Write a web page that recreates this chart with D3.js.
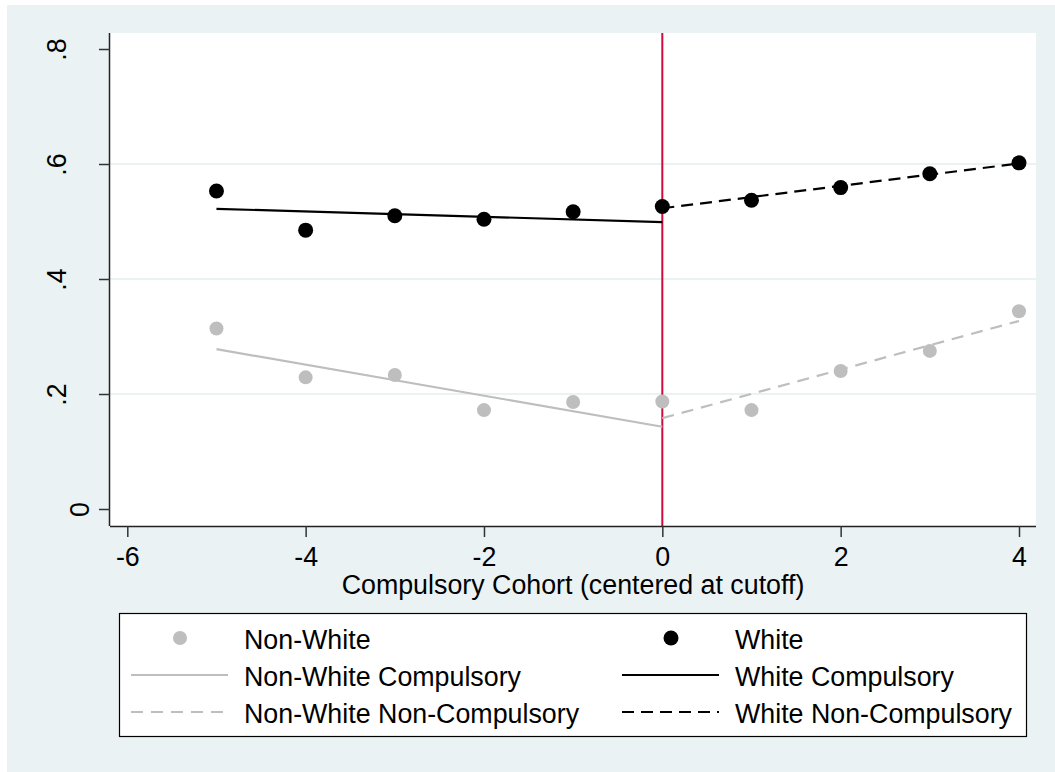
<!DOCTYPE html>
<html>
<head>
<meta charset="utf-8">
<script src="https://cdn.jsdelivr.net/npm/d3@7"></script>
<style>
  body { margin: 0; background: #fff; }
  svg text { font-family: "Liberation Sans", Arial, sans-serif; fill: #000; }
</style>
</head>
<body>
<svg id="chart" width="1055" height="772"></svg>
<script>
// Binned means by cohort
var cohorts = [-5, -4, -3, -2, -1, 0, 1, 2, 3, 4];
var nonWhite = [0.314, 0.229, 0.233, 0.172, 0.186, 0.187, 0.172, 0.240, 0.275, 0.344];
var white = [0.553, 0.485, 0.510, 0.504, 0.517, 0.526, 0.537, 0.559, 0.583, 0.602];

// Fitted lines (endpoints), left and right of the cutoff
var nwCompulsory = [[-5, 0.278], [0, 0.143]];
var nwNonCompulsory = [[0, 0.158], [4, 0.327]];
var wCompulsory = [[-5, 0.522], [0, 0.499]];
var wNonCompulsory = [[0, 0.523], [4, 0.601]];

var xTicks = [-6, -4, -2, 0, 2, 4];
var yTicks = [0, 0.2, 0.4, 0.6, 0.8];
var yGrid = [0.2, 0.4, 0.6];
var cutoff = 0;

var legendItems = [
    { label: "Non-White", type: "point", color: "#bebebe" },
    { label: "White", type: "point", color: "#000" },
    { label: "Non-White Compulsory", type: "line", color: "#bebebe", dash: null },
    { label: "White Compulsory", type: "line", color: "#000", dash: null },
    { label: "Non-White Non-Compulsory", type: "line", color: "#bebebe", dash: "12,8" },
    { label: "White Non-Compulsory", type: "line", color: "#000", dash: "12,7" }
];

var bg = "#eaf2f3";
var fontSize = "26.8px";
var plot = { left: 110, right: 1036, top: 33, bottom: 526 };

var svg = d3.select("#chart");

// Outer graph region
svg.append("rect")
    .attr("x", 7).attr("y", 5)
    .attr("width", 1055 - 7).attr("height", 772 - 5)
    .attr("fill", bg);

// Plot region
svg.append("rect")
    .attr("x", plot.left).attr("y", plot.top)
    .attr("width", plot.right - plot.left).attr("height", plot.bottom - plot.top)
    .attr("fill", "#fff");

var x = d3.scaleLinear().domain([-6, 4]).range([127.3, 1019]);
var y = d3.scaleLinear().domain([0, 0.8]).range([509, 49]);

// Gridlines
svg.selectAll(".grid")
    .data(yGrid)
    .enter().append("line")
    .attr("class", "grid")
    .attr("x1", plot.left).attr("x2", plot.right)
    .attr("y1", d => y(d)).attr("y2", d => y(d))
    .attr("stroke", bg)
    .attr("stroke-width", 2);

// Cutoff line
svg.append("line")
    .attr("x1", x(cutoff)).attr("x2", x(cutoff))
    .attr("y1", plot.top).attr("y2", plot.bottom)
    .attr("stroke", "#cf0a3c")
    .attr("stroke-width", 2);

// Fitted lines
var line = d3.line().x(d => x(d[0])).y(d => y(d[1]));

function drawFit(data, color, dash) {
    svg.append("path")
        .datum(data)
        .attr("d", line)
        .attr("fill", "none")
        .attr("stroke", color)
        .attr("stroke-width", 2.2)
        .attr("stroke-dasharray", dash);
}
drawFit(nwCompulsory, "#bebebe", null);
drawFit(nwNonCompulsory, "#bebebe", "12,8");
drawFit(wCompulsory, "#000", null);
drawFit(wNonCompulsory, "#000", "12,7");

// Points
svg.selectAll(".nw")
    .data(cohorts)
    .enter().append("circle")
    .attr("class", "nw")
    .attr("cx", d => x(d))
    .attr("cy", (d, i) => y(nonWhite[i]))
    .attr("r", 7)
    .attr("fill", "#bebebe");

svg.selectAll(".w")
    .data(cohorts)
    .enter().append("circle")
    .attr("class", "w")
    .attr("cx", d => x(d))
    .attr("cy", (d, i) => y(white[i]))
    .attr("r", 7.5)
    .attr("fill", "#000");

// X axis
var xAxis = svg.append("g")
    .attr("transform", "translate(0," + plot.bottom + ")")
    .call(d3.axisBottom(x).tickValues(xTicks).tickSize(11).tickSizeOuter(0).tickFormat(d3.format("d")));
xAxis.select(".domain").attr("d", "M" + plot.left + ",0.5H" + plot.right).attr("stroke", "#222").attr("stroke-width", 1.5);
xAxis.selectAll(".tick line").attr("stroke", "#333").attr("stroke-width", 1.5);
xAxis.selectAll(".tick text")
    .attr("y", 40).attr("dy", 0)
    .style("font-size", fontSize)
    .text(d => d3.format("d")(d).replace("−", "-"));

// Y axis, labels rotated
var yAxis = svg.append("g")
    .attr("transform", "translate(" + plot.left + ",0)")
    .call(d3.axisLeft(y).tickValues(yTicks).tickSize(11).tickSizeOuter(0));
yAxis.select(".domain").attr("d", "M-0.5," + plot.top + "V" + plot.bottom).attr("stroke", "#222").attr("stroke-width", 1.5);
yAxis.selectAll(".tick line").attr("stroke", "#333").attr("stroke-width", 1.5);
yAxis.selectAll(".tick text")
    .attr("x", null).attr("dy", 0)
    .attr("text-anchor", "middle")
    .attr("transform", d => "translate(" + (d === 0 ? -21 : -44) + ",0) rotate(-90)")
    .style("font-size", fontSize)
    .text(d => d === 0 ? "0" : d3.format(".1f")(d).replace(/^0/, ""));

// X axis title
svg.append("text")
    .attr("x", (plot.left + plot.right) / 2)
    .attr("y", 594)
    .attr("text-anchor", "middle")
    .style("font-size", fontSize)
    .text("Compulsory Cohort (centered at cutoff)");

// Legend
var legend = svg.append("g");
legend.append("rect")
    .attr("x", 119.5).attr("y", 613.5)
    .attr("width", 907).attr("height", 123)
    .attr("fill", "#fff")
    .attr("stroke", "#000")
    .attr("stroke-width", 1.2);

var colKey = [131, 622];
var keyWidth = 97;
var rowY = [638, 675, 712];

var item = legend.selectAll(".legend")
    .data(legendItems)
    .enter().append("g")
    .attr("class", "legend")
    .attr("transform", (d, i) => "translate(" + colKey[i % 2] + "," + rowY[Math.floor(i / 2)] + ")");

item.filter(d => d.type === "point").append("circle")
    .attr("cx", keyWidth / 2 + 0.5)
    .attr("r", d => d.color === "#000" ? 7.5 : 7)
    .attr("fill", d => d.color);

item.filter(d => d.type === "line").append("line")
    .attr("x1", 0).attr("x2", keyWidth)
    .attr("stroke", d => d.color)
    .attr("stroke-width", 2.2)
    .attr("stroke-dasharray", d => d.dash);

item.append("text")
    .attr("x", 113)
    .attr("y", 11)
    .style("font-size", fontSize)
    .text(d => d.label);
</script>
</body>
</html>
